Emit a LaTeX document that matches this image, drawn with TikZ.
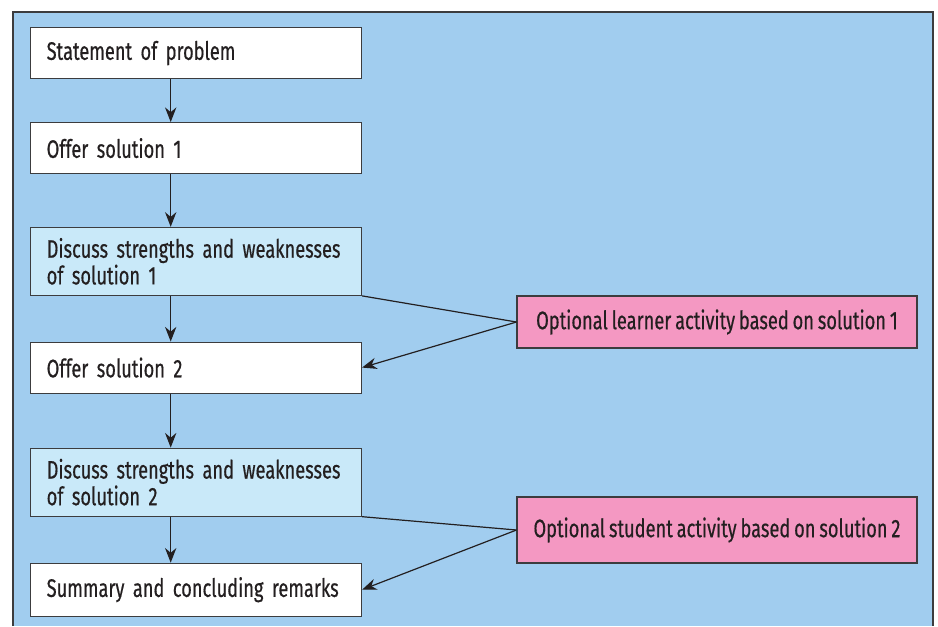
\documentclass[tikz,border=0pt]{standalone}
\usepackage{fontspec}
\setmainfont[FakeStretch=0.72,FakeBold=0.5,WordSpace=0.8]{Fira Sans}
\usetikzlibrary{positioning,arrows.meta}
\definecolor{panelblue}{RGB}{161,205,239}
\definecolor{discussblue}{RGB}{201,233,249}
\definecolor{optpink}{RGB}{244,152,194}
\definecolor{edgegray}{RGB}{60,60,62}
\definecolor{inkblack}{RGB}{35,31,32}

\begin{document}
\begin{tikzpicture}[
	stagebox/.style={
		shape=rectangle,
		draw=edgegray,
		fill=white,
		line width=0.8pt,
		minimum width=248.25pt,
		minimum height=38.25pt,
		text width=224pt,
		inner xsep=12pt,
		align=left,
	},
	discussbox/.style={
		stagebox,
		fill=discussblue,
		minimum height=51pt,
	},
	optbox/.style={
		shape=rectangle,
		draw=edgegray,
		fill=optpink,
		line width=0.8pt,
		minimum width=300pt,
		minimum height=39pt,
	},
	flow/.style={
		->,
		draw=inkblack,
	},
	>={Stealth[length=11pt,width=8.5pt]},
	font=\fontsize{19}{20}\selectfont,
	text=inkblack,
	line width=0.9pt,
	node distance=35pt,
]
\useasboundingbox (0,0) rectangle (703.5pt,-469.5pt);

% the blue panel, open at the bottom
\fill[panelblue] (9.75pt,-9pt) rectangle (699.75pt,-469.5pt);
\draw[edgegray, line width=1.2pt] (9.75pt,-469.5pt) |- (699.75pt,-9pt) -- (699.75pt,-469.5pt);

\node (problem) [stagebox, anchor=north west] at (22.5pt,-20.25pt) {Statement of problem};
\node (offer1) [stagebox, below=32.25pt of problem] {Offer solution 1};
\node (discuss1) [discussbox, below=39.5pt of offer1] {Discuss strengths and weaknesses\\of solution 1};
\node (offer2) [stagebox, below=34.25pt of discuss1] {Offer solution 2};
\node (discuss2) [discussbox, below=40.5pt of offer2] {Discuss strengths and weaknesses\\of solution 2};
\node (summary) [stagebox, below=34.5pt of discuss2, minimum height=39.75pt] {Summary and concluding remarks};

\node (activity1) [optbox] at (537.75pt,-241.5pt) {Optional learner activity based on solution 1};
\node (activity2) [optbox, minimum height=49.5pt] at (537.75pt,-397.5pt) {Optional student activity based on solution 2};

% main line sits left of the box centres
\draw[flow] ([xshift=-19pt]problem.south) -- ([xshift=-19pt]offer1.north);
\draw[flow] ([xshift=-19pt]offer1.south) -- ([xshift=-19pt]discuss1.north);
\draw[flow] ([xshift=-19pt]discuss1.south) -- ([xshift=-19pt]offer2.north);
\draw[flow] ([xshift=-19pt]offer2.south) -- ([xshift=-19pt]discuss2.north);
\draw[flow] ([xshift=-19pt]discuss2.south) -- ([xshift=-19pt]summary.north);

\draw[inkblack] (discuss1.south east) -- (activity1.west);
\draw[flow] (activity1.west) -- (offer2.east);
\draw[inkblack] (discuss2.south east) -- (activity2.west);
\draw[flow] (activity2.west) -- (summary.east);
\end{tikzpicture}
\end{document}
